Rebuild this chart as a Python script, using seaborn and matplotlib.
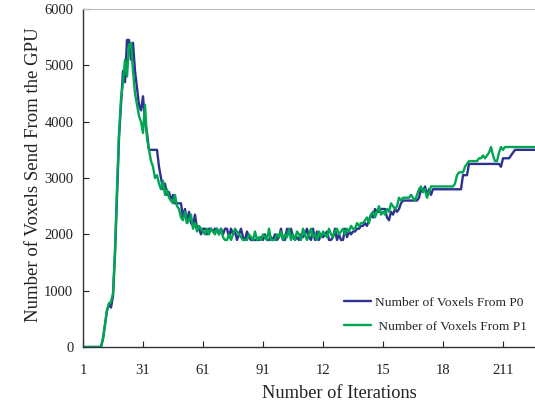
import numpy as np
import pandas as pd
import matplotlib
matplotlib.use("Agg")
import matplotlib.pyplot as plt
import seaborn as sns

p0 = [
    0, 0, 0, 0, 0, 0, 0, 0, 0, 0,
    150, 400, 650, 750, 700, 900, 1650, 2700, 3700, 4300,
    4900, 4700, 5450, 5450, 5100, 5400, 4900, 4600, 4300, 4200,
    4450, 4000, 3800, 3500, 3500, 3500, 3500, 3500, 3200, 3000,
    2800, 2900, 2700, 2750, 2600, 2700, 2550, 2550, 2550, 2550,
    2300, 2450, 2200, 2400, 2200, 2150, 2350, 2100, 2100, 2000,
    2100, 2100, 2000, 2100, 2100, 2050, 2100, 2100, 2000, 2100,
    2000, 2100, 2100, 1950, 2100, 2000, 2050, 1900, 2000, 2100,
    1950, 1900, 2050, 1950, 1900, 1900, 1900, 1900, 1900, 1950,
    1900, 2000, 1900, 1900, 1950, 1900, 2000, 1900, 1950, 2100,
    1900, 1900, 2100, 2000, 2100, 1950, 1900, 1950, 1900, 2000,
    1950, 2000, 2100, 1950, 1900, 2100, 1900, 2050, 1900, 2000,
    1950, 2000, 2050, 1900, 1900, 1950, 2100, 1900, 2000, 1900,
    1900, 2100, 1950, 2050, 2000, 2050, 2050, 2100, 2100, 2150,
    2150, 2200, 2150, 2250, 2350, 2300, 2450, 2400, 2400, 2450,
    2450, 2450, 2300, 2250, 2400, 2350, 2450, 2400, 2450, 2550,
    2600, 2600, 2600, 2600, 2600, 2600, 2600, 2600, 2650, 2800,
    2750, 2850, 2700, 2800, 2700, 2800, 2800, 2800, 2800, 2800,
    2800, 2800, 2800, 2800, 2800, 2800, 2800, 2800, 2800, 2800,
    3050, 3050, 3050, 3250, 3250, 3250, 3250, 3250, 3250, 3250,
    3250, 3250, 3250, 3250, 3250, 3250, 3250, 3250, 3250, 3200,
    3350, 3350, 3350, 3350, 3400, 3450, 3500, 3500, 3500, 3500,
    3500, 3500, 3500, 3500, 3500, 3500, 3500,
]

p1 = [
    0, 0, 0, 0, 0, 0, 0, 0, 0, 0,
    150, 400, 650, 780, 800, 950, 1700, 2800, 3800, 4400,
    4700, 5100, 4800, 5350, 5400, 4900, 4500, 4300, 4100, 4000,
    3800, 4300, 3700, 3500, 3300, 3200, 3000, 3050, 2900, 2800,
    2950, 2700, 2800, 2650, 2600, 2550, 2700, 2500, 2450, 2300,
    2250, 2400, 2200, 2250, 2350, 2100, 2200, 2050, 2150, 2100,
    2050, 2000, 2100, 2000, 2100, 2050, 2000, 2100, 2000, 2100,
    1950, 1900, 1900, 2000, 1900, 2000, 2100, 2050, 2000, 1950,
    1900, 1900, 1900, 2000, 1950, 1900, 2050, 1900, 1950, 1900,
    2000, 1950, 1900, 2100, 1900, 1900, 1900, 2000, 1950, 2050,
    1900, 2000, 1950, 2100, 1900, 2000, 1900, 2050, 2000, 1900,
    2100, 2000, 1900, 2000, 2100, 1950, 2000, 1900, 2050, 1950,
    2050, 2000, 1950, 2100, 2000, 1950, 2050, 2100, 2000, 2050,
    2100, 2000, 2100, 2050, 2150, 2100, 2100, 2200, 2150, 2200,
    2200, 2250, 2300, 2200, 2350, 2400, 2300, 2400, 2500, 2350,
    2400, 2350, 2450, 2400, 2550, 2500, 2450, 2500, 2650, 2600,
    2650, 2650, 2650, 2650, 2700, 2650, 2600, 2700, 2800, 2850,
    2750, 2800, 2650, 2750, 2850, 2850, 2850, 2850, 2850, 2850,
    2850, 2850, 2850, 2850, 2850, 2850, 2900, 3050, 3100, 3100,
    3100, 3200, 3250, 3300, 3300, 3300, 3300, 3300, 3350, 3350,
    3400, 3350, 3400, 3450, 3550, 3400, 3300, 3300, 3450, 3550,
    3500, 3550, 3550, 3550, 3550, 3550, 3550, 3550, 3550, 3550,
    3550, 3550, 3550, 3550, 3550, 3550, 3550,
]

series_names = ["Number of Voxels From P0", " Number of Voxels From P1"]
x_ticks = [1, 31, 61, 91, 121, 151, 181, 211]
x_tick_labels = ["1", "31", "61", "91", "12", "15", "18", "211"]
y_ticks = [0, 1000, 2000, 3000, 4000, 5000, 6000]

iters = np.arange(1, len(p0) + 1)
df = pd.DataFrame({
    "iter": np.concatenate([iters, iters]),
    "value": p0 + p1,
    "series": [series_names[0]] * len(p0) + [series_names[1]] * len(p1),
})

sns.set_theme(style="white")
plt.rcParams["font.family"] = ["Liberation Serif", "DejaVu Serif"]

fig = plt.figure(figsize=(5.35, 4.04), dpi=100)
ax = fig.add_axes([83 / 535, 57 / 404, 1 - 83 / 535, 338 / 404])

sns.lineplot(data=df, x="iter", y="value", hue="series",
             palette={series_names[0]: "#2E3192", series_names[1]: "#00A651"},
             linewidth=1.7, ax=ax, legend=True)

ax.set_xlim(1, 227)
ax.set_ylim(0, 6000)
ax.set_xticks(x_ticks)
ax.set_xticklabels(x_tick_labels)
ax.set_yticks(y_ticks)
ax.set_yticklabels([str(v) for v in y_ticks])
ax.tick_params(axis="x", direction="in", length=4, width=0.8, pad=12,
               labelsize=10.5, colors="#222222", bottom=True)
ax.tick_params(axis="y", direction="in", length=4, width=0.8, pad=7,
               labelsize=10.5, colors="#222222", left=True)

for side in ["left", "bottom"]:
    ax.spines[side].set_color("#333333")
    ax.spines[side].set_linewidth(1.0)
ax.spines["top"].set_color("#bbbbbb")
ax.spines["top"].set_linewidth(0.8)
ax.spines["right"].set_visible(False)

ax.set_xlabel("Number of Iterations", fontsize=13.2, color="#222222")
ax.xaxis.set_label_coords((339 - 83) / 452, -(393 - 347) / 338)
ax.xaxis.label.set_va("center")
ax.set_ylabel("Number of Voxels Send From the GPU", fontsize=13.5, color="#222222")
ax.yaxis.set_label_coords(-(83 - 34) / 452, (347 - 175) / 338)
ax.yaxis.label.set_va("center")

leg = ax.legend(loc="upper left", bbox_to_anchor=(256 / 452, 56 / 338),
                frameon=False, fontsize=9.7, handlelength=2.0,
                handletextpad=0.3, labelspacing=0.85, borderaxespad=0)

fig.savefig("out.png", dpi=100)
